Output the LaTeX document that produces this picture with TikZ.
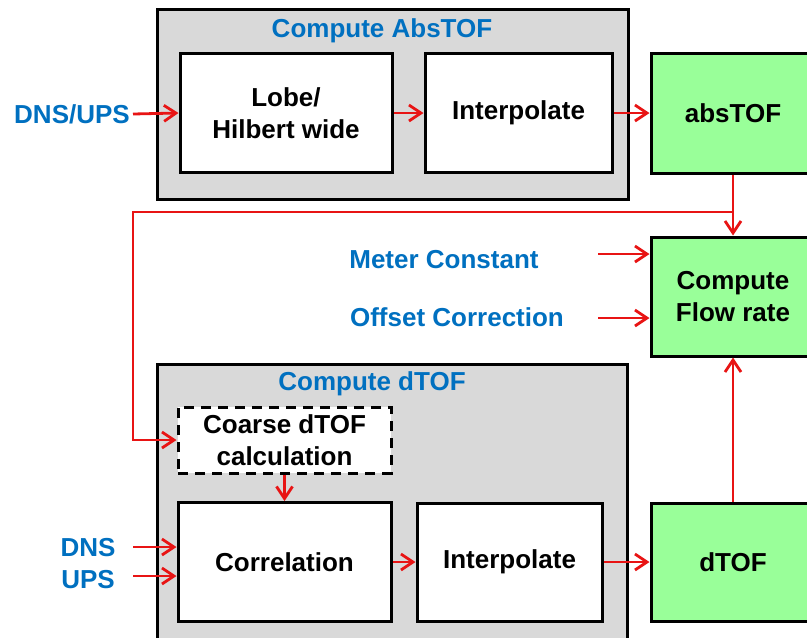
\documentclass[tikz,border=0pt]{standalone}
\usepackage{fontspec}
\setmainfont{Liberation Sans}
\usetikzlibrary{arrows.meta}

\definecolor{labelblue}{RGB}{0,112,192}
\definecolor{flowred}{RGB}{232,20,20}
\definecolor{resgreen}{RGB}{153,255,153}
\definecolor{grpgray}{RGB}{217,217,217}

\tikzset{
  blk/.style={draw=black, line width=3pt, fill=white, align=center,
    font=\bfseries\fontsize{26}{32}\selectfont, inner sep=0pt},
  res/.style={blk, fill=resgreen},
  grp/.style={draw=black, line width=3pt, fill=grpgray},
  lbl/.style={text=labelblue, font=\bfseries\fontsize{26}{32}\selectfont, inner sep=0pt},
  flow/.style={draw=flowred, line width=2.8pt,
    -{Straight Barb[length=12pt,width=16pt,line width=2.8pt]}},
}

\begin{document}
\begin{tikzpicture}[x=1pt,y=-1pt]
\useasboundingbox (0,0) rectangle (807,638);
\clip (0,0) rectangle (807,638);
\fill[white] (0,0) rectangle (807,638);

% the two processing groups
\draw[grp] (157,9) rectangle (628,199);
\draw[grp] (157,364) rectangle (627,660);
\node[lbl] (abstitle) at (382,31) {Compute AbsTOF};
\node[lbl] (dtoftitle) at (372,384) {Compute dTOF};

% absolute time of flight
\node[blk, minimum width=212pt, minimum height=119pt] (lobe) at (286,113) {Lobe/\\Hilbert wide};
\node[blk, minimum width=187pt, minimum height=119pt] (interpA) at (518.5,113) {Interpolate};
\node[res, minimum width=164pt, minimum height=120pt] (abs) at (733,113) {absTOF};

% flow rate
\node[res, minimum width=164pt, minimum height=119pt] (flowrate) at (733,296.5) {Compute\\Flow rate};

% differential time of flight
\node[blk, dash pattern=on 10pt off 7pt, minimum width=213pt, minimum height=66pt] (coarse) at (284.5,440) {Coarse dTOF\\calculation};
\node[blk, minimum width=213pt, minimum height=119pt] (corr) at (284.5,562) {Correlation};
\node[blk, minimum width=185pt, minimum height=118pt] (interpD) at (509.5,562) {Interpolate};
\node[res, minimum width=164pt, minimum height=118pt] (dtof) at (733,562) {dTOF};

% inputs
\node[lbl, anchor=east] (dnsups) at (130,114) {DNS/UPS};
\node[lbl] (meter) at (444,260) {Meter Constant};
\node[lbl] (offset) at (457,317) {Offset Correction};
\node[lbl] (dns) at (88,548) {DNS};
\node[lbl] (ups) at (88,580) {UPS};

\coordinate (meterin) at (598,254);
\coordinate (offsetin) at (598,318);
\coordinate (dnsin) at (133,547);
\coordinate (upsin) at (133,576);
\coordinate (split) at (733,212);
\coordinate (bend) at (133,212);

% connections
\draw[flow] (dnsups.east) ++(3,0) -- (lobe.west);
\draw[flow] (lobe) -- (interpA);
\draw[flow] (interpA) -- (abs);
\draw[flow] (abs) -- (flowrate);
\draw[flow] (split) -- (bend) |- (coarse.west);
\draw[flow] (meterin) -- (meterin -| flowrate.west);
\draw[flow] (offsetin) -- (offsetin -| flowrate.west);
\draw[flow] (coarse) -- (corr);
\draw[flow] (dnsin) -- (dnsin -| corr.west);
\draw[flow] (upsin) -- (upsin -| corr.west);
\draw[flow] (corr) -- (interpD);
\draw[flow] (interpD) -- (dtof);
\draw[flow] (dtof) -- (flowrate);
\end{tikzpicture}
\end{document}
